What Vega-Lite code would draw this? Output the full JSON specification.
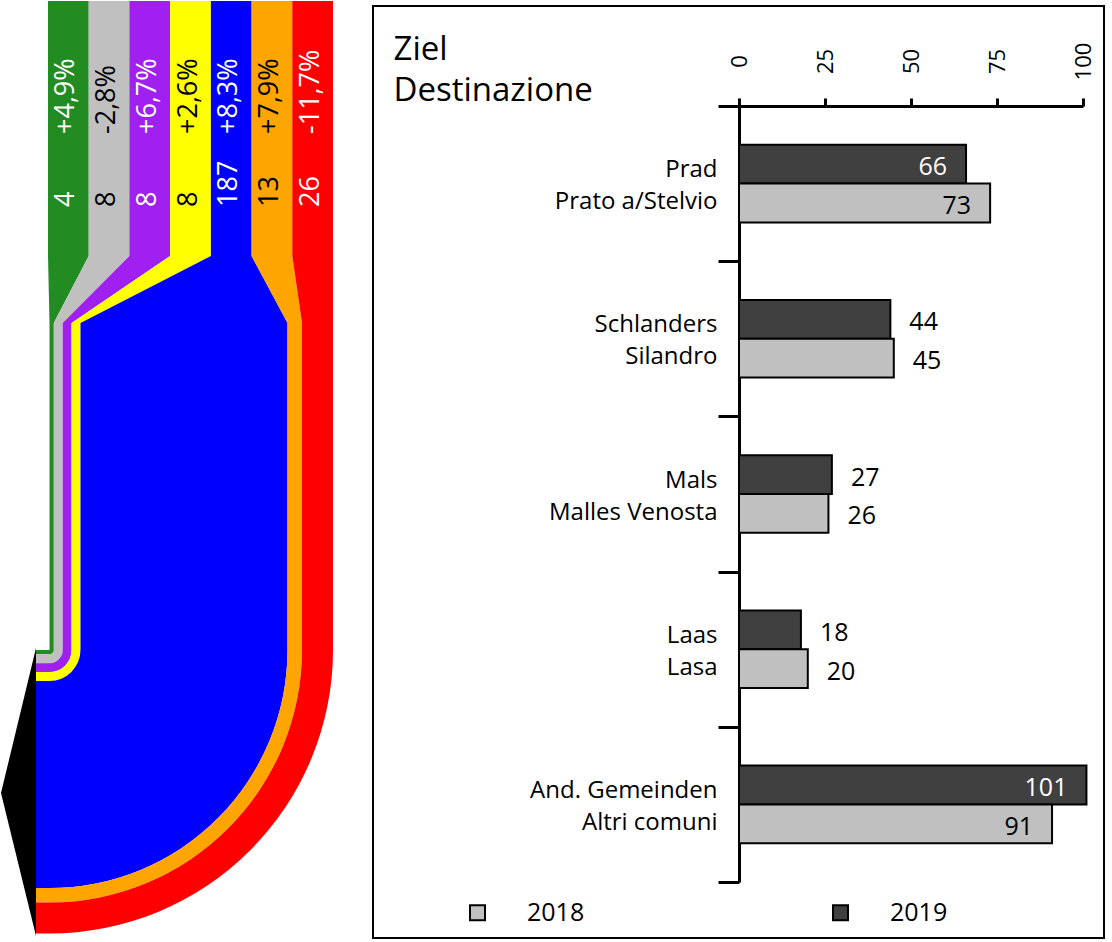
{
  "$schema": "https://vega.github.io/schema/vega-lite/v6.json",
  "background": "white",
  "padding": {"top": -7, "left": 0, "right": 0, "bottom": 0},
  "autosize": {"type": "pad"},
  "spacing": 33,
  "bounds": "flush",
  "config": {
    "font": "Open Sans",
    "view": {"stroke": null},
    "axis": {"labelColor": "black", "domainColor": "black", "tickColor": "black", "titleColor": "black", "grid": false, "labelFont": "Open Sans", "titleFont": "Open Sans"},
    "legend": {"labelFont": "Open Sans", "labelColor": "black"},
    "text": {"font": "Open Sans"}
  },
  "resolve": {"scale": {"color": "independent"}},
  "hconcat": [
    {
      "width": 340,
      "height": 932,
      "view": {"stroke": null},
      "layer": [
        {
          "data": {"values": [
            {"band": "green", "y": 0, "xl": 48, "xr": 88.7},
            {"band": "green", "y": 255, "xl": 48, "xr": 88.7},
            {"band": "green", "y": 322, "xl": 49.5, "xr": 53.8},
            {"band": "green", "y": 650, "xl": 49.5, "xr": 53.8},
            {"band": "grey", "y": 0, "xl": 88.7, "xr": 129.4},
            {"band": "grey", "y": 255, "xl": 88.7, "xr": 129.4},
            {"band": "grey", "y": 322, "xl": 53.8, "xr": 62.7},
            {"band": "grey", "y": 650, "xl": 53.8, "xr": 62.7},
            {"band": "purple", "y": 0, "xl": 129.4, "xr": 170.1},
            {"band": "purple", "y": 255, "xl": 129.4, "xr": 170.1},
            {"band": "purple", "y": 322, "xl": 62.7, "xr": 71.6},
            {"band": "purple", "y": 650, "xl": 62.7, "xr": 71.6},
            {"band": "yellow", "y": 0, "xl": 170.1, "xr": 210.9},
            {"band": "yellow", "y": 255, "xl": 170.1, "xr": 210.9},
            {"band": "yellow", "y": 322, "xl": 71.6, "xr": 80.5},
            {"band": "yellow", "y": 650, "xl": 71.6, "xr": 80.5},
            {"band": "blue", "y": 0, "xl": 210.9, "xr": 251.6},
            {"band": "blue", "y": 255, "xl": 210.9, "xr": 251.6},
            {"band": "blue", "y": 322, "xl": 80.5, "xr": 287.5},
            {"band": "blue", "y": 650, "xl": 80.5, "xr": 287.5},
            {"band": "orange", "y": 0, "xl": 251.6, "xr": 292.3},
            {"band": "orange", "y": 255, "xl": 251.6, "xr": 292.3},
            {"band": "orange", "y": 322, "xl": 287.5, "xr": 302},
            {"band": "orange", "y": 650, "xl": 287.5, "xr": 302},
            {"band": "red", "y": 0, "xl": 292.3, "xr": 333},
            {"band": "red", "y": 255, "xl": 292.3, "xr": 333},
            {"band": "red", "y": 322, "xl": 302, "xr": 333},
            {"band": "red", "y": 650, "xl": 302, "xr": 333}
          ]},
          "mark": {"type": "area", "orient": "horizontal"},
          "encoding": {
            "y": {"field": "y", "type": "quantitative", "scale": {"domain": [5, 937], "reverse": true, "zero": false, "nice": false}, "axis": null},
            "x": {"field": "xl", "type": "quantitative", "stack": null, "scale": {"domain": [0, 340], "zero": false, "nice": false}, "axis": null},
            "x2": {"field": "xr"},
            "color": {"field": "band", "type": "nominal", "scale": {"domain": ["green", "grey", "purple", "yellow", "blue", "orange", "red"], "range": ["#228b22", "#c0c0c0", "#a020f0", "#ffff00", "#0000ff", "#ffa500", "#ff0000"]}, "legend": null}
          }
        },
        {
          "data": {"values": [
            {"band": "green", "r0": 0, "r1": 4.3},
            {"band": "grey", "r0": 4.3, "r1": 13.2},
            {"band": "purple", "r0": 13.2, "r1": 22.1},
            {"band": "yellow", "r0": 22.1, "r1": 31},
            {"band": "blue", "r0": 31, "r1": 238},
            {"band": "orange", "r0": 238, "r1": 252.5},
            {"band": "red", "r0": 252.5, "r1": 283.5}
          ]},
          "mark": {"type": "arc", "theta": 1.5708, "theta2": 3.1416},
          "encoding": {
            "x": {"datum": 49.5, "type": "quantitative", "scale": {"domain": [0, 340], "zero": false, "nice": false}, "axis": null},
            "y": {"datum": 649, "type": "quantitative", "scale": {"domain": [5, 937], "reverse": true, "zero": false, "nice": false}, "axis": null},
            "radius": {"field": "r1", "type": "quantitative", "stack": null, "scale": {"type": "linear", "domain": [0, 340], "range": [0, 340], "zero": true, "nice": false}},
            "radius2": {"field": "r0"},
            "color": {"field": "band", "type": "nominal", "legend": null}
          }
        },
        {
          "data": {"values": [
            {"band": "green", "y0": 649, "y1": 653.3},
            {"band": "grey", "y0": 653.3, "y1": 662.2},
            {"band": "purple", "y0": 662.2, "y1": 671.1},
            {"band": "yellow", "y0": 671.1, "y1": 680},
            {"band": "blue", "y0": 680, "y1": 887},
            {"band": "orange", "y0": 887, "y1": 901.5},
            {"band": "red", "y0": 901.5, "y1": 932.5}
          ]},
          "mark": {"type": "rect"},
          "encoding": {
            "x": {"datum": 36, "type": "quantitative", "scale": {"domain": [0, 340], "zero": false, "nice": false}, "axis": null},
            "x2": {"datum": 50},
            "y": {"field": "y0", "type": "quantitative", "scale": {"domain": [5, 937], "reverse": true, "zero": false, "nice": false}, "axis": null},
            "y2": {"field": "y1"},
            "color": {"field": "band", "type": "nominal", "legend": null}
          }
        },
        {
          "data": {"values": [
            {"y": 647, "xl": 36, "xr": 36},
            {"y": 792, "xl": 1, "xr": 36},
            {"y": 935, "xl": 36, "xr": 36}
          ]},
          "mark": {"type": "area", "orient": "horizontal", "color": "black"},
          "encoding": {
            "y": {"field": "y", "type": "quantitative", "scale": {"domain": [5, 937], "reverse": true, "zero": false, "nice": false}, "axis": null},
            "x": {"field": "xl", "type": "quantitative", "stack": null, "scale": {"domain": [0, 340], "zero": false, "nice": false}, "axis": null},
            "x2": {"field": "xr"}
          }
        },
        {
          "data": {"name": "labels", "values": [
            {"band": "green", "value": "4", "change": "+4,9%", "xc": 66.4},
            {"band": "grey", "value": "8", "change": "-2,8%", "xc": 107},
            {"band": "purple", "value": "8", "change": "+6,7%", "xc": 147.8},
            {"band": "yellow", "value": "8", "change": "+2,6%", "xc": 188.5},
            {"band": "blue", "value": "187", "change": "+8,3%", "xc": 229.3},
            {"band": "orange", "value": "13", "change": "+7,9%", "xc": 270},
            {"band": "red", "value": "26", "change": "-11,7%", "xc": 310.7}
          ]},
          "layer": [
            {
              "mark": {"type": "text", "angle": 270, "align": "left", "baseline": "middle", "fontSize": 27},
              "encoding": {
                "x": {"field": "xc", "type": "quantitative", "scale": {"domain": [0, 340], "zero": false, "nice": false}, "axis": null},
                "y": {"datum": 206, "type": "quantitative", "scale": {"domain": [5, 937], "reverse": true, "zero": false, "nice": false}, "axis": null},
                "text": {"field": "value", "type": "nominal"},
                "color": {"condition": {"test": "datum.band === 'grey' || datum.band === 'yellow' || datum.band === 'orange'", "value": "black"}, "value": "white"}
              }
            },
            {
              "mark": {"type": "text", "angle": 270, "align": "left", "baseline": "middle", "fontSize": 27},
              "encoding": {
                "x": {"field": "xc", "type": "quantitative", "scale": {"domain": [0, 340], "zero": false, "nice": false}, "axis": null},
                "y": {"datum": 133, "type": "quantitative", "scale": {"domain": [5, 937], "reverse": true, "zero": false, "nice": false}, "axis": null},
                "text": {"field": "change", "type": "nominal"},
                "color": {"condition": {"test": "datum.band === 'grey' || datum.band === 'yellow' || datum.band === 'orange'", "value": "black"}, "value": "white"}
              }
            }
          ]
        }
      ]
    },
    {
      "width": 731,
      "height": 932,
      "view": {"stroke": "black", "strokeWidth": 2},
      "data": {"values": [
        {"place": "Prad|Prato a/Stelvio", "year": "2019", "value": 66},
        {"place": "Prad|Prato a/Stelvio", "year": "2018", "value": 73},
        {"place": "Schlanders|Silandro", "year": "2019", "value": 44},
        {"place": "Schlanders|Silandro", "year": "2018", "value": 45},
        {"place": "Mals|Malles Venosta", "year": "2019", "value": 27},
        {"place": "Mals|Malles Venosta", "year": "2018", "value": 26},
        {"place": "Laas|Lasa", "year": "2019", "value": 18},
        {"place": "Laas|Lasa", "year": "2018", "value": 20},
        {"place": "And. Gemeinden|Altri comuni", "year": "2019", "value": 101},
        {"place": "And. Gemeinden|Altri comuni", "year": "2018", "value": 91}
      ]},
      "encoding": {
        "y": {
          "field": "place", "type": "nominal", "sort": null,
          "scale": {"range": [100, 876], "paddingInner": 0, "paddingOuter": 0},
          "axis": {
            "orient": "left", "offset": -366, "tickBand": "extent", "tickSize": 21, "tickWidth": 3, "domainWidth": 3,
            "labelPadding": 1, "labelFontSize": 24, "labelAlign": "right", "labelBaseline": "middle", "labelLineHeight": 32,
            "labelOffset": -14, "labelLimit": 400, "labelExpr": "split(datum.label, '|')",
            "title": "Ziel", "titleFontSize": 33, "titleFontWeight": "normal", "titleAngle": 0,
            "titleAlign": "left", "titleBaseline": "alphabetic", "titleX": -346, "titleY": 53
          }
        },
        "yOffset": {"field": "year", "type": "nominal", "sort": ["2019", "2018"], "scale": {"paddingInner": 0, "paddingOuter": 1}},
        "x": {
          "field": "value", "type": "quantitative",
          "scale": {"domain": [0, 100], "range": [366, 710], "nice": false, "zero": true},
          "axis": {
            "orient": "top", "offset": -100, "values": [0, 25, 50, 75, 100],
            "title": "Destinazione", "titleFontSize": 33, "titleFontWeight": "normal", "titleAngle": 0,
            "titleAlign": "left", "titleBaseline": "alphabetic", "titleX": 20, "titleY": -6,
            "tickSize": 8, "tickWidth": 3, "domainWidth": 3, "labelAngle": 270, "labelAlign": "center", "labelBaseline": "middle",
            "labelPadding": 37, "labelFontSize": 22, "labelFlush": false, "labelOverlap": false
          }
        }
      },
      "layer": [
        {
          "mark": {"type": "bar", "stroke": "black", "strokeWidth": 2},
          "encoding": {
            "color": {
              "field": "year", "type": "nominal",
              "scale": {"domain": ["2018", "2019"], "range": ["#c0c0c0", "#404040"]},
              "legend": {
                "orient": "none", "legendX": 92, "legendY": 894, "direction": "horizontal", "title": null,
                "symbolType": "square", "symbolSize": 225, "symbolStrokeColor": "black", "symbolStrokeWidth": 2,
                "labelFontSize": 25, "labelOffset": 37, "columnPadding": 243, "padding": 0
              }
            }
          }
        },
        {
          "transform": [{"filter": "datum.value > 60 && datum.year === '2019'"}],
          "mark": {"type": "text", "align": "right", "baseline": "middle", "dx": -19, "dy": 3, "fontSize": 25, "color": "white"},
          "encoding": {"text": {"field": "value", "type": "quantitative"}}
        },
        {
          "transform": [{"filter": "datum.value > 60 && datum.year === '2018'"}],
          "mark": {"type": "text", "align": "right", "baseline": "middle", "dx": -19, "dy": 3, "fontSize": 25, "color": "black"},
          "encoding": {"text": {"field": "value", "type": "quantitative"}}
        },
        {
          "transform": [{"filter": "datum.value <= 60"}],
          "mark": {"type": "text", "align": "left", "baseline": "middle", "dx": 19, "dy": 3, "fontSize": 25, "color": "black"},
          "encoding": {"text": {"field": "value", "type": "quantitative"}}
        }
      ]
    }
  ]
}
